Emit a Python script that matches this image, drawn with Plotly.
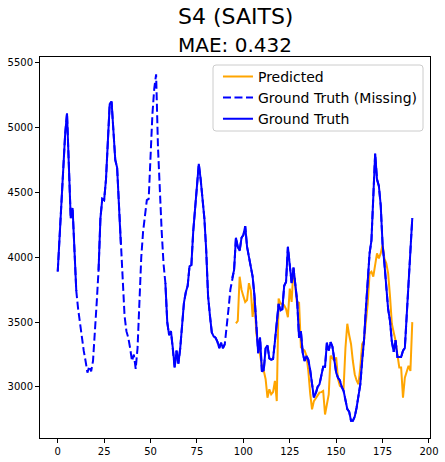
import plotly.graph_objects as go

# Ground truth series (index 0..191)
ground_truth = [
    3890, 4150, 4450, 4700, 4950, 5110, 4700, 4300, 4380, 4050,
    3740, 3600, 3480, 3370, 3280, 3200, 3110, 3160, 3120, 3200,
    3400, 3650, 3900, 4300, 4450, 4440, 4600, 4900, 5180, 5200,
    4950, 4750, 4690, 4400, 4100, 3850, 3550, 3430, 3380, 3300,
    3200, 3250, 3140, 3300, 3700, 4000, 4200, 4300, 4440, 4450,
    4800, 5100, 5300, 5410, 4850, 4500, 4200, 3950, 3800, 3500,
    3400, 3430, 3300, 3150, 3280, 3180, 3300, 3500, 3650, 3730,
    3780, 3930, 3940, 4200, 4400, 4550, 4720, 4600, 4450, 4300,
    4050, 3700, 3550, 3420, 3390, 3380, 3350, 3300, 3340, 3300,
    3330, 3450, 3600, 3750, 3840, 3900, 4150, 4080, 4050, 4150,
    4170, 4240, 4080, 4000, 3950, 3850, 3700, 3500, 3260, 3380,
    3120, 3130, 3300, 3320, 3220, 3210, 3215, 3350, 3500, 3640,
    3590, 3600, 3780, 3810, 4080, 3950, 3800, 3920, 3800, 3660,
    3380, 3430, 3260, 3200, 3240, 3210, 3130, 3000, 2920, 2950,
    3000, 3020, 3100, 3155, 3155, 3340, 3280, 3345, 3310, 3200,
    3110, 3070, 3050, 3000, 2970, 2900, 2830, 2810, 2740, 2740,
    2770, 2840, 2930, 3020, 3200, 3360, 3600, 3800, 4030, 4130,
    4470, 4800, 4600, 4550, 4400, 4100, 3950, 3750, 3600, 3510,
    3350, 3270, 3360, 3230, 3230, 3230, 3280, 3300, 3550, 3850,
    4050, 4300,
]

# Indices whose ground truth was masked (missing)
missing_idx = list(range(11, 22)) + list(range(35, 58)) + list(range(91, 94))

# Predicted series (index 96..191)
pred_start = 96
predicted = [
    3490, 3510, 3850, 3750, 3700, 3655, 3670, 3800, 3745, 3540,
    3690, 3410, 3330, 3254, 3163, 3124, 3060, 2917, 2982, 2943,
    2960, 3047, 2891, 3681, 3642, 3642, 3629, 3600, 3538, 3758,
    3655, 3914, 3771, 3629, 3655, 3305, 3292, 3280, 3241, 3124,
    2950, 2827, 2891, 2910, 2930, 2956, 2960, 2969, 2788, 2870,
    2943, 3241, 3220, 3202, 3228, 3060, 3008, 3000, 2990, 3300,
    3487, 3400, 3331, 3200, 3098, 3050, 3021, 3150, 3331, 3357,
    3500, 3642, 3875, 3888, 3850, 3950, 4030, 3991, 4030, 4095,
    3990, 3953, 3875, 3700, 3487, 3420, 3357, 3250, 3150, 3150,
    2917, 3072, 3120, 3163, 3124, 3500,
]

x_tick_vals = [0, 25, 50, 75, 100, 125, 150, 175, 200]
y_tick_vals = [3000, 3500, 4000, 4500, 5000, 5500]

n = len(ground_truth)
x_all = list(range(n))
x_pred = list(range(pred_start, pred_start + len(predicted)))
missing_set = set(missing_idx)
observed = [None if i in missing_set else v for i, v in enumerate(ground_truth)]

fig = go.Figure()
fig.add_trace(go.Scatter(x=x_pred, y=predicted, mode="lines", name="Predicted",
                         line=dict(color="#FFA500", width=2)))
fig.add_trace(go.Scatter(x=x_all, y=ground_truth, mode="lines", name="Ground Truth (Missing)",
                         line=dict(color="#0000FF", width=2, dash="8px,3.5px")))
fig.add_trace(go.Scatter(x=x_all, y=observed, mode="lines", name="Ground Truth",
                         line=dict(color="#0000FF", width=2), connectgaps=False))

ymin, ymax = min(ground_truth + predicted), max(ground_truth + predicted)
pad_y = (ymax - ymin) * 0.05
pad_x = (n - 1) * 0.05

axis_common = dict(showline=True, linecolor="black", linewidth=1, mirror=True,
                   ticks="outside", ticklen=4, tickwidth=1, tickcolor="black",
                   showgrid=False, zeroline=False, automargin=False,
                   tickfont=dict(family="DejaVu Sans", size=10, color="black"))

# legend frame (rounded box) in paper coordinates
W, H = 445, 462
ML, MR, MT, MB = 40, 15, 57, 24
PW, PH = W - ML - MR, H - MT - MB


def px_x(p):
    return (p - ML) / PW


def px_y(p):
    return (H - MB - p) / PH


x0, x1, y0, y1, r = 213, 423, 65, 131, 3
rx, ry = r / PW, r / PH
fx0, fx1, fy_top, fy_bot = px_x(x0), px_x(x1), px_y(y0), px_y(y1)
frame_path = (
    f"M {fx0 + rx},{fy_top} L {fx1 - rx},{fy_top} Q {fx1},{fy_top} {fx1},{fy_top - ry} "
    f"L {fx1},{fy_bot + ry} Q {fx1},{fy_bot} {fx1 - rx},{fy_bot} "
    f"L {fx0 + rx},{fy_bot} Q {fx0},{fy_bot} {fx0},{fy_bot + ry} "
    f"L {fx0},{fy_top - ry} Q {fx0},{fy_top} {fx0 + rx},{fy_top} Z"
)

fig.update_layout(
    width=W, height=H,
    margin=dict(l=ML, r=MR, t=MT, b=MB, autoexpand=False),
    paper_bgcolor="white", plot_bgcolor="white",
    font=dict(family="DejaVu Sans", color="black"),
    xaxis=dict(range=[-pad_x, n - 1 + pad_x], tickvals=x_tick_vals, **axis_common),
    yaxis=dict(range=[ymin - pad_y, ymax + pad_y], tickvals=y_tick_vals, **axis_common),
    legend=dict(x=0.982, y=0.990, xanchor="right", yanchor="top",
                bgcolor="rgba(0,0,0,0)", borderwidth=0,
                font=dict(family="DejaVu Sans", size=14, color="black")),
    showlegend=True,
    shapes=[dict(type="path", xref="paper", yref="paper", path=frame_path,
                 fillcolor="rgba(255,255,255,0.8)", line=dict(color="#cccccc", width=1),
                 layer="above")],
    annotations=[
        dict(text="S4 (SAITS)", xref="paper", yref="paper", x=0.5, y=1 + 41 / PH,
             xanchor="center", yanchor="middle", showarrow=False,
             font=dict(family="DejaVu Sans", size=22, color="black")),
        dict(text="MAE: 0.432", xref="paper", yref="paper", x=0.5, y=1 + 12 / PH,
             xanchor="center", yanchor="middle", showarrow=False,
             font=dict(family="DejaVu Sans", size=20, color="black")),
    ],
)

fig.write_html("out.html", config={"displayModeBar": False},
               post_script="document.body.style.margin='0';document.body.style.overflow='hidden';")
